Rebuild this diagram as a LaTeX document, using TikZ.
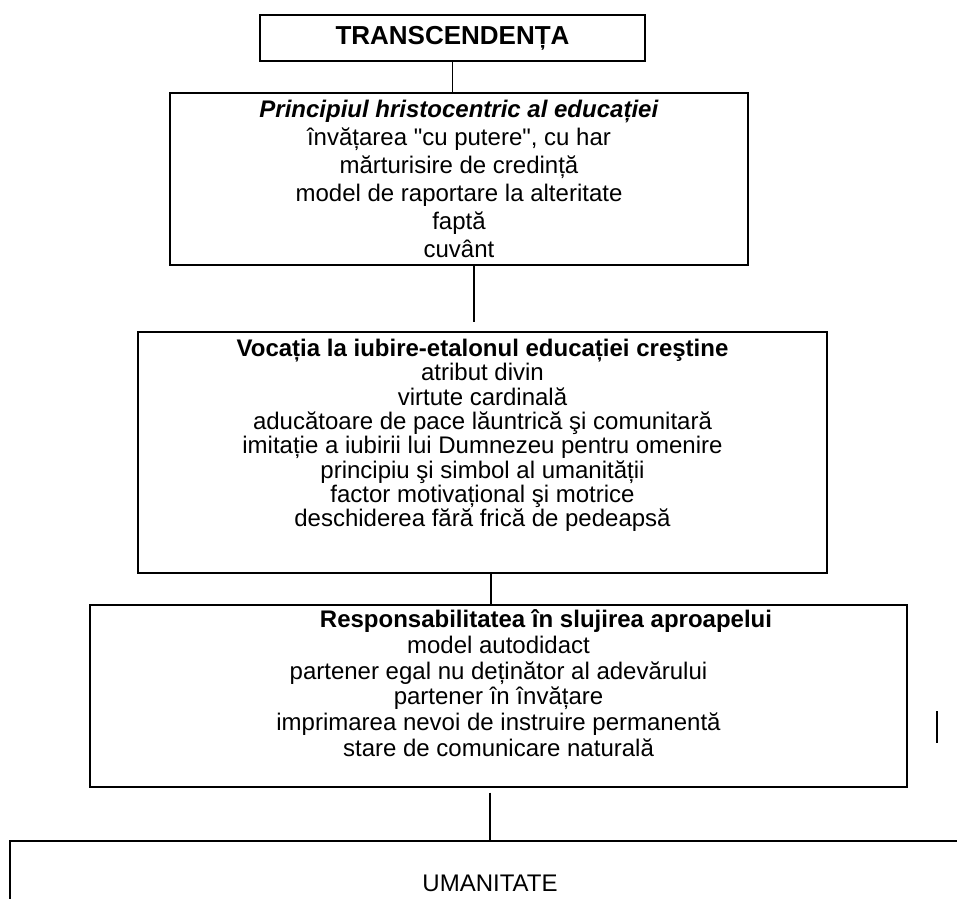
\documentclass[tikz,border=0pt]{standalone}
\usepackage{fontspec}
\newfontfamily\arialfont{Liberation Sans}

\begin{document}
\begin{tikzpicture}[x=1pt, y=-1pt, line width=1.4pt,
  box/.style={draw, inner sep=0pt, align=center, font=\arialfont\fontsize{24}{26}\selectfont},
  link/.style={draw, line width=1.4pt}]
\useasboundingbox (0,0) rectangle (957,898);
\clip (0,0) rectangle (957,898);
\node[box, minimum width=385, minimum height=46, font=\arialfont\fontsize{26}{30}\selectfont\bfseries] (transc) at (452.5,38) {TRANSCENDENȚA};
\node[box, minimum width=578, minimum height=172, font=\arialfont\fontsize{24}{28}\selectfont] (hristo) at (459,179) {\textbf{\textit{Principiul hristocentric al educației}}\\
  învățarea "cu putere", cu har\\
  mărturisire de credință\\
  model de raportare la alteritate\\
  faptă\\
  cuvânt};
\node[box, minimum width=689, minimum height=241, font=\arialfont\fontsize{24}{24.3}\selectfont] (vocatia) at (482.5,452.5) {\textbf{Vocația la iubire-etalonul educației creştine}\\
  atribut divin\\
  virtute cardinală\\
  aducătoare de pace lăuntrică şi comunitară\\
  imitație a iubirii lui Dumnezeu pentru omenire\\
  principiu şi simbol al umanității\\
  factor motivațional şi motrice\\
  deschiderea fără frică de pedeapsă\\[15pt]
  \mbox{}};
\node[box, minimum width=817, minimum height=182, font=\arialfont\fontsize{24}{25.8}\selectfont] (resp) at (498.5,696) {\hspace*{95pt}\textbf{Responsabilitatea în slujirea aproapelui}\\
  model autodidact\\
  partener egal nu deținător al adevărului\\
  partener în învățare\\
  imprimarea nevoi de instruire permanentă\\
  stare de comunicare naturală\\
  \mbox{}};
\node[box, minimum width=960, minimum height=84] (uman) at (490,883) {UMANITATE};
\draw[link] (transc.south) -- (transc.south |- hristo.north);
\draw[link, shorten >=9pt] ([xshift=15pt]hristo.south) -- ([xshift=15pt]hristo.south |- vocatia.north);
\draw[link] ([xshift=8.5pt]vocatia.south) -- ([xshift=8.5pt]vocatia.south |- resp.north);
\draw[link, shorten <=5pt] ([xshift=-8.5pt]resp.south) -- ([xshift=-8.5pt]resp.south |- uman.north);
\coordinate (tick) at (937,711);
\draw[link] (tick) -- ++(0,32);
\end{tikzpicture}
\end{document}
